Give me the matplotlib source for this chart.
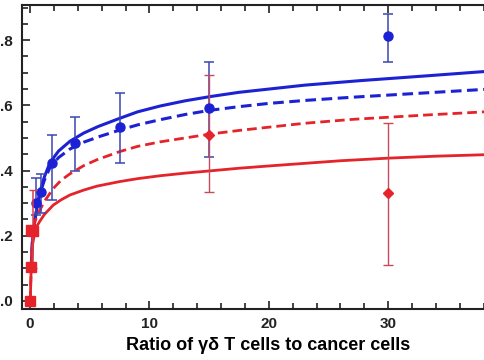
import numpy as np
import matplotlib
matplotlib.use("Agg")
import matplotlib.pyplot as plt
from matplotlib.ticker import MultipleLocator, FuncFormatter

# measured points (mean +/- error)
blue_x = [0.47, 0.94, 1.875, 3.75, 7.5, 15, 30]
blue_y = [0.30, 0.335, 0.424, 0.486, 0.533, 0.591, 0.814]
blue_lo = [0.264, 0.27, 0.31, 0.397, 0.422, 0.443, 0.734]
blue_hi = [0.378, 0.39, 0.51, 0.565, 0.639, 0.734, 0.88]

red_x = [0.03, 0.06, 0.12, 0.25]
red_y = [0.0, 0.105, 0.218, 0.213]
red_lo = [0.0, 0.105, 0.218, 0.10]
red_hi = [0.0, 0.105, 0.218, 0.34]

red2_x = [15, 30]
red2_y = [0.51, 0.33]
red2_lo = [0.335, 0.11]
red2_hi = [0.693, 0.545]

# fitted curves
blue_fit_x = [0.1, 0.2, 0.3, 0.42, 0.6, 0.84, 1.2, 1.68, 2.4, 3.35, 4.5, 5.7, 7.5, 9, 10.9,
              13, 15.1, 17.5, 20, 23, 27.7, 33, 38.5]
blue_fit_y = [0.1, 0.18, 0.22, 0.25, 0.29, 0.335, 0.38, 0.425, 0.46, 0.49, 0.515, 0.535, 0.56,
              0.58, 0.598, 0.614, 0.627, 0.64, 0.65, 0.662, 0.676, 0.69, 0.705]
blue_dash_x = [0.1, 0.2, 0.3, 0.42, 0.6, 0.84, 1.2, 1.68, 2.4, 3.35, 4.5, 5.87, 7.5, 9, 10.9,
               13, 15.1, 17.5, 20, 23, 27, 33, 38.5]
blue_dash_y = [0.1, 0.18, 0.22, 0.25, 0.29, 0.33, 0.37, 0.41, 0.44, 0.466, 0.487, 0.505, 0.524,
               0.54, 0.556, 0.572, 0.585, 0.596, 0.606, 0.615, 0.625, 0.638, 0.65]
red_dash_x = [0.02, 0.1, 0.2, 0.3, 0.42, 0.6, 0.84, 1.2, 1.95, 2.6, 3.35, 4.5, 5.6, 7.5, 9, 10.9,
              13, 15.1, 17.5, 20, 23, 27, 33, 38.5]
red_dash_y = [0.0, 0.1, 0.18, 0.22, 0.245, 0.26, 0.28, 0.305, 0.345, 0.37, 0.39, 0.415, 0.433,
              0.458, 0.474, 0.488, 0.5, 0.512, 0.523, 0.533, 0.545, 0.557, 0.57, 0.581]
red_fit_x = [0.02, 0.1, 0.2, 0.35, 0.56, 0.8, 1.2, 1.95, 2.6, 3.35, 4.5, 5.6, 7.5, 9, 10.9,
             13, 15.1, 17.5, 20, 23, 26, 30, 34, 38.5]
red_fit_y = [0.0, 0.1, 0.17, 0.2, 0.228, 0.243, 0.265, 0.294, 0.31, 0.325, 0.34, 0.352, 0.366,
             0.375, 0.384, 0.392, 0.399, 0.407, 0.414, 0.422, 0.43, 0.438, 0.444, 0.449]

blue = '#1c22d4'
red = '#e4232a'

plt.rcParams['font.family'] = ['Liberation Sans', 'DejaVu Sans']
fig = plt.figure(figsize=(4.85, 3.6), dpi=100)
ax = fig.add_axes([22/485, 1-309/360, 1-22/485, (309-5)/360])

ax.plot(blue_fit_x, blue_fit_y, color=blue, lw=2.2)
ax.plot(blue_dash_x, blue_dash_y, color=blue, lw=2.2, ls=(0, (3.5, 1.8)))
ax.plot(red_dash_x, red_dash_y, color=red, lw=2.0, ls=(0, (3.5, 1.8)))
ax.plot(red_fit_x, red_fit_y, color=red, lw=2.0)

by = np.array(blue_y)
ax.errorbar(blue_x, blue_y, yerr=[by-np.array(blue_lo), np.array(blue_hi)-by],
            fmt='o', color=blue, ecolor='#3b45b0', elinewidth=1.1, capsize=3.5,
            capthick=1.1, ms=6.5, zorder=4)
ry = np.array(red_y)
ax.errorbar(red_x, red_y, yerr=[ry-np.array(red_lo), np.array(red_hi)-ry],
            fmt='s', color=red, ecolor='#d8404a', elinewidth=1.1, capsize=3,
            ms=7, zorder=5)
r2 = np.array(red2_y)
ax.errorbar(red2_x, red2_y, yerr=[r2-np.array(red2_lo), np.array(red2_hi)-r2],
            fmt='D', color=red, ecolor='#c84a5a', elinewidth=1.0, capsize=3.5,
            capthick=1.0, ms=5, zorder=4)

ax.set_xlim(-0.67, 38.1)
ax.set_ylim(-0.025, 0.908)
ax.xaxis.set_major_locator(MultipleLocator(10))
ax.xaxis.set_minor_locator(MultipleLocator(2))
ax.yaxis.set_major_locator(MultipleLocator(0.2))
ax.yaxis.set_minor_locator(MultipleLocator(0.05))
# the leading zero is cropped away in the original figure
ax.yaxis.set_major_formatter(FuncFormatter(lambda v, p: ('%.1f' % v).lstrip('0')))
ax.tick_params(which='both', direction='in', top=True, right=False, width=1.2, colors='#222222')
ax.tick_params(which='major', length=6)
ax.tick_params(which='minor', length=4)
ax.tick_params(axis='x', which='major', pad=6, labelsize=11)
ax.tick_params(axis='y', which='major', pad=7, labelsize=11)
for lab in ax.get_xticklabels() + ax.get_yticklabels():
    lab.set_fontweight('bold')
for s in ['left', 'bottom', 'top']:
    ax.spines[s].set_linewidth(1.5)
    ax.spines[s].set_color('#222222')
ax.spines['right'].set_visible(False)

ax.set_xlabel('Ratio of γδ T cells to cancer cells', fontsize=13, fontweight='bold')
ax.xaxis.set_label_coords(0.531, -0.092)

fig.savefig('out.png', dpi=100)
